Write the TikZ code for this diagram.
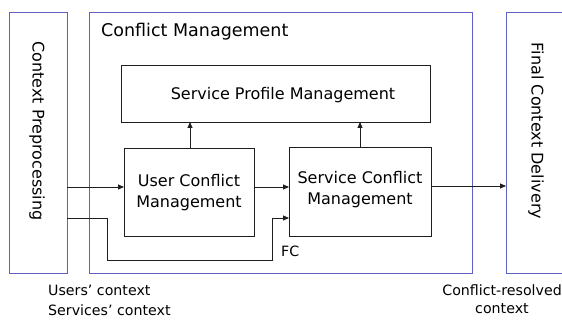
\documentclass[tikz,border=0pt]{standalone}
\usepackage{fontspec}
\setmainfont{DejaVu Sans}
\usetikzlibrary{arrows.meta}
\definecolor{frameblue}{RGB}{96,96,196}
\definecolor{lineclr}{RGB}{30,30,30}
\begin{document}
\begin{tikzpicture}[x=1pt,y=-1pt,
  outer/.style={draw=frameblue,line width=1pt,anchor=north west,inner sep=0pt},
  inner/.style={draw=lineclr,line width=0.9pt,anchor=north west,inner sep=0pt},
  conn/.style={draw=lineclr,line width=0.9pt,-{Triangle[length=6pt,width=5pt]}},
  bigtxt/.style={font=\fontsize{17.5}{21}\selectfont,inner sep=0pt},
  midtxt/.style={font=\fontsize{16}{21}\selectfont,inner sep=0pt,align=center},
  smalltxt/.style={font=\fontsize{14.2}{19}\selectfont,inner sep=0pt}]
\useasboundingbox (0,0) rectangle (562,320);
\fill[white] (0,0) rectangle (562,320);
% outer boxes
\node[outer,minimum width=58pt,minimum height=261pt] (cp) at (9,12) {};
\node[outer,minimum width=383pt,minimum height=261pt] (cm) at (89,12) {};
\node[outer,minimum width=70pt,minimum height=261pt] (fcd) at (506,12) {};
\node[midtxt,rotate=-90] (cptxt) at (37,131) {Context Preprocessing};
\node[midtxt,rotate=-90] (fcdtxt) at (536,131) {Final Context Delivery};
\node[bigtxt,anchor=base west] (cmtxt) at (101,37) {Conflict Management};
% inner boxes
\node[inner,minimum width=309pt,minimum height=57pt] (spm) at (121,65) {};
\node[midtxt,anchor=base] (spmtxt) at (283,100) {Service Profile Management};
\node[inner,minimum width=130pt,minimum height=88pt] (ucm) at (124,148) {};
\node[midtxt] (ucmtxt) at (189,193) {User Conflict\\Management};
\node[inner,minimum width=142pt,minimum height=89pt] (scm) at (289,147) {};
\node[midtxt] (scmtxt) at (360,189.5) {Service Conflict\\Management};
% coordinates
\coordinate (a1) at (67,187);
\coordinate (b1) at (67,218);
\coordinate (b2) at (107,260);
\coordinate (b3) at (272,218);
% connectors
\draw[conn] (a1) -- (a1 -| ucm.west);
\draw[conn] (b1) -| (b2) -| (b3) -- (b3 -| scm.west);
\draw[conn] (ucm.east |- 0,187) -- (scm.west |- 0,187);
\draw[conn] (scm.east |- 0,186) -- (fcd.west |- 0,186);
\draw[conn] (190,148) -- (190,122);
\draw[conn] (360,147) -- (360,122);
% labels
\node[smalltxt,anchor=base west] (fc) at (281,257) {FC};
\node[smalltxt,anchor=base west] (uc) at (48,295) {Users’ context};
\node[smalltxt,anchor=base west] (sc) at (48,315) {Services’ context};
\node[smalltxt,anchor=base east] (cr) at (562,295) {Conflict-resolved};
\node[smalltxt,anchor=base] (crc) at (502,313) {context};
\end{tikzpicture}
\end{document}
